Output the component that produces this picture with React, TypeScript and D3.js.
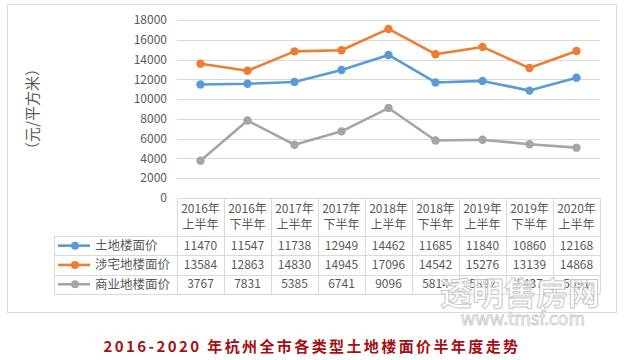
import React from "react";
import * as d3 from "d3";

const categories = [
  ["2016年", "上半年"],
  ["2016年", "下半年"],
  ["2017年", "上半年"],
  ["2017年", "下半年"],
  ["2018年", "上半年"],
  ["2018年", "下半年"],
  ["2019年", "上半年"],
  ["2019年", "下半年"],
  ["2020年", "上半年"],
];
const landValues = [11470, 11547, 11738, 12949, 14462, 11685, 11840, 10860, 12168];
const residentialValues = [13584, 12863, 14830, 14945, 17096, 14542, 15276, 13139, 14868];
const commercialValues = [3767, 7831, 5385, 6741, 9096, 5814, 5892, 5437, 5091];
const seriesNames = ["土地楼面价", "涉宅地楼面价", "商业地楼面价"];
const seriesColors = ["#5b9bd5", "#ed7d31", "#a5a5a5"];
const yTicks = [0, 2000, 4000, 6000, 8000, 10000, 12000, 14000, 16000, 18000];
const yLabel = "（元/平方米）";
const title = "2016-2020 年杭州全市各类型土地楼面价半年度走势";

const FONT = "'Noto Sans CJK SC', 'Noto Sans', sans-serif";

export default function App() {
  const series = [landValues, residentialValues, commercialValues];
  const plotLeft = 177;
  const plotRight = 600;
  const x = d3
    .scaleBand<number>()
    .domain(categories.map((_, i) => i))
    .range([plotLeft, plotRight]);
  const y = d3.scaleLinear().domain([0, 18000]).range([198, 20]);
  const line = d3
    .line<number>()
    .x((_, i) => (x(i) as number) + x.bandwidth() / 2)
    .y((d) => y(d));

  const tableTop = y(0);
  const headerBottom = 236;
  const rowH = 19.3;
  const legendLeft = 54;
  const rowYs = series.map((_, i) => headerBottom + i * rowH);
  const tableBottom = headerBottom + series.length * rowH;
  const gridColor = "#d9d9d9";
  const textColor = "#595959";

  return (
    <svg width={625} height={360} style={{ position: "absolute", left: 0, top: 0, background: "#fff" }}>
      <rect x={0} y={0} width={625} height={360} fill="#fff" />
      <rect x={7.5} y={4.5} width={609} height={308} fill="#fff" stroke="#d9d9d9" strokeWidth={1} />
      {/* gridlines */}
      {yTicks.map((t) => (
        <line key={t} x1={plotLeft} x2={plotRight} y1={Math.round(y(t)) + 0.5} y2={Math.round(y(t)) + 0.5} stroke={gridColor} strokeWidth={1} />
      ))}
      {/* y tick labels */}
      {yTicks.map((t) => (
        <text key={"l" + t} x={167} y={y(t)} dy="0.35em" textAnchor="end" fontFamily={FONT} fontSize={12} fill={textColor}>
          {t}
        </text>
      ))}
      {/* y axis label */}
      <text
        transform={`translate(33,${109}) rotate(-90)`}
        textAnchor="middle"
        dy="0.35em"
        fontFamily={FONT}
        fontSize={15}
        fill={textColor}
      >
        {yLabel}
      </text>
      {/* lines */}
      {series.map((s, si) => (
        <g key={"s" + si}>
          <path d={line(s) || ""} fill="none" stroke={seriesColors[si]} strokeWidth={2.6} strokeLinejoin="round" />
          {s.map((v, i) => (
            <circle key={i} cx={(x(i) as number) + x.bandwidth() / 2} cy={y(v)} r={4.2} fill={seriesColors[si]} />
          ))}
        </g>
      ))}
      {/* table */}
      <g>
        <line x1={plotLeft} x2={plotRight} y1={tableTop + 0.5} y2={tableTop + 0.5} stroke={gridColor} />
        {[headerBottom, ...rowYs.slice(1), tableBottom].map((yy, i) => (
          <line key={"h" + i} x1={legendLeft} x2={plotRight} y1={Math.round(yy) + 0.5} y2={Math.round(yy) + 0.5} stroke={gridColor} />
        ))}
        <line x1={legendLeft + 0.5} x2={legendLeft + 0.5} y1={headerBottom} y2={tableBottom} stroke={gridColor} />
        {categories.map((_, i) => (
          <line key={"v" + i} x1={Math.round(x(i) as number) + 0.5} x2={Math.round(x(i) as number) + 0.5} y1={tableTop} y2={tableBottom} stroke={gridColor} />
        ))}
        <line x1={plotRight + 0.5} x2={plotRight + 0.5} y1={tableTop} y2={tableBottom} stroke={gridColor} />
        {categories.map((c, i) => (
          <g key={"c" + i}>
            <text x={(x(i) as number) + x.bandwidth() / 2} y={209} dy="0.35em" textAnchor="middle" fontFamily={FONT} fontSize={12} fill={textColor}>
              {c[0]}
            </text>
            <text x={(x(i) as number) + x.bandwidth() / 2} y={225} dy="0.35em" textAnchor="middle" fontFamily={FONT} fontSize={12} fill={textColor}>
              {c[1]}
            </text>
          </g>
        ))}
        {series.map((s, si) => {
          const cy = rowYs[si] + rowH / 2;
          return (
            <g key={"r" + si}>
              <line x1={58} x2={90} y1={cy} y2={cy} stroke={seriesColors[si]} strokeWidth={2.6} />
              <circle cx={75} cy={cy} r={4} fill={seriesColors[si]} />
              <text x={95} y={cy} dy="0.35em" fontFamily={FONT} fontSize={12.5} fill={textColor}>
                {seriesNames[si]}
              </text>
              {s.map((v, i) => (
                <text key={i} x={(x(i) as number) + x.bandwidth() / 2} y={cy} dy="0.35em" textAnchor="middle" fontFamily={FONT} fontSize={12} fill={textColor}>
                  {v}
                </text>
              ))}
            </g>
          );
        })}
      </g>
      {/* watermark */}
      <text x={520} y={305} textAnchor="middle" fontFamily={FONT} fontSize={32} fontWeight="bold" fill="#ffffff" fillOpacity={0.7} stroke="#c8c8c8" strokeWidth={1}>
        透明售房网
      </text>
      <text x={523} y={325} textAnchor="middle" fontFamily={FONT} fontSize={18} fill="#ffffff" fillOpacity={0.7} stroke="#c8c8c8" strokeWidth={0.8}>
        www.tmsf.com
      </text>
      {/* title */}
      <text x={312} y={347} dy="0.35em" textAnchor="middle" fontFamily={FONT} fontSize={15} fontWeight="bold" fill="#a50f14" letterSpacing={2.4}>
        {title}
      </text>
    </svg>
  );
}
